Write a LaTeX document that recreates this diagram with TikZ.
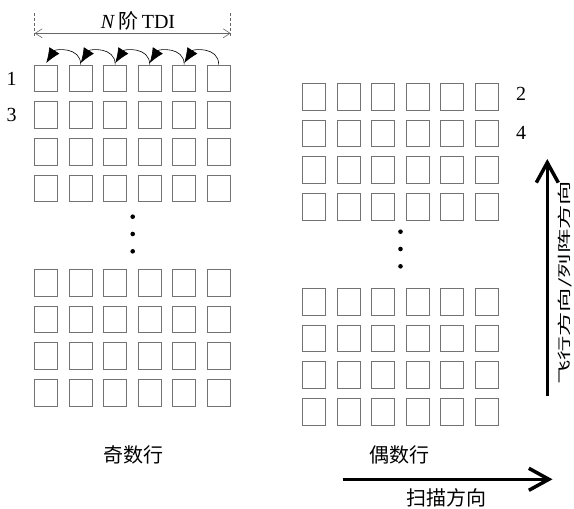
\documentclass[tikz,border=0pt]{standalone}
\usepackage{fontspec}
\setmainfont{Liberation Serif}
\newfontfamily\cjk{Noto Sans CJK SC}
\usetikzlibrary{arrows.meta}
\tikzset{
  cell/.style={draw=black!55, line width=0.8pt, minimum width=23pt, minimum height=26.7pt, inner sep=0pt},
  rowno/.style={font=\fontsize{20}{24}\selectfont, inner sep=0pt},
  cnlabel/.style={font=\cjk\fontsize{20}{24}\selectfont, inner sep=0pt},
  dimline/.style={draw=black!60, line width=0.6pt},
  shiftarrow/.style={line width=0.6pt, -{Latex[length=15pt,width=12pt]}},
  bigarrow/.style={line width=3.5pt, -{Straight Barb[length=20pt,width=22pt]}},
}
\begin{document}
\begin{tikzpicture}[x=1pt, y=-1pt]
      \useasboundingbox (0,0) rectangle (574,509);
      %
      \foreach \c in {1,...,6} {     % odd rows, left grid
        \foreach \r/\y in {1/78.3,2/115,3/151.7,4/188.3,5/282.6,6/319.3,7/356,8/392.7}
          \node[cell] (o-\r-\c) at ({46.2+34.5*(\c-1)},\y) {};
      }
      %
      \foreach \c in {1,...,6} {     % even rows, right grid
        \foreach \r/\y in {1/96.7,2/133.3,3/170,4/206.7,5/301.7,6/338.3,7/375,8/411.7}
          \node[cell] (e-\r-\c) at ({313.8+34.6*(\c-1)},\y) {};
      }
      %
      \foreach \y in {216.7,234,251.3} \fill (132.7,\y) circle (2.3pt); % dots
      \foreach \y in {231.7,249,266.3} \fill (400.5,\y) circle (2.3pt);
      %
      \node[rowno] (n1) at (11.5,79) {1};         % row numbers
      \node[rowno] (n3) at (11.5,115) {3};
      \node[rowno] (n2) at (521,94) {2};
      \node[rowno] (n4) at (521,133) {4};
      %
      \coordinate (dl-top) at (34.7,13);         % N TDI span
      \coordinate (dl-bot) at (34.7,37);
      \coordinate (dr-top) at (230.7,13);
      \coordinate (dr-bot) at (230.7,37);
      \coordinate (dl) at (34.7,33.3);
      \coordinate (dr) at (230.7,33.3);
      \draw[dimline, dash pattern=on 3pt off 2pt] (dl-top) -- (dl-bot);
      \draw[dimline, dash pattern=on 3pt off 2pt] (dr-top) -- (dr-bot);
      \draw[dimline, {Straight Barb[length=7pt,width=9pt]}-{Straight Barb[length=7pt,width=9pt]}] (dl) -- (dr);
      \node[rowno] (tdi) at (138,21) {\textit{N}\,{\cjk 阶}\,TDI};
      %
      \foreach \c [evaluate=\c as \p using int(\c-1)] in {2,...,6}   % shift arrows
        \draw[shiftarrow] (o-1-\c.north) .. controls +(0,-18) and +(9,-14) .. ([yshift=1.5pt]o-1-\p.north);
      %
      \node[cnlabel] (odd) at (133.7,455) {奇数行};
      \node[cnlabel] (even) at (399,455) {偶数行};
      %
      \coordinate (fly-a) at (547.3,396);        % flight direction
      \coordinate (fly-b) at (547.3,159);
      \draw[bigarrow] (fly-a) -- (fly-b);
      \node[cnlabel, font=\cjk\fontsize{13.5}{16}\selectfont, rotate=90] (fly) at (565,283)
        {\scalebox{1.8}[1]{飞行方向/列阵方向}};
      %
      \coordinate (scan-a) at (342.7,479.3);     % scan direction
      \coordinate (scan-b) at (552.5,479.3);
      \draw[bigarrow] (scan-a) -- (scan-b);
      \node[cnlabel] (scan) at (446.7,498) {扫描方向};
      %
    \end{tikzpicture}
\end{document}
